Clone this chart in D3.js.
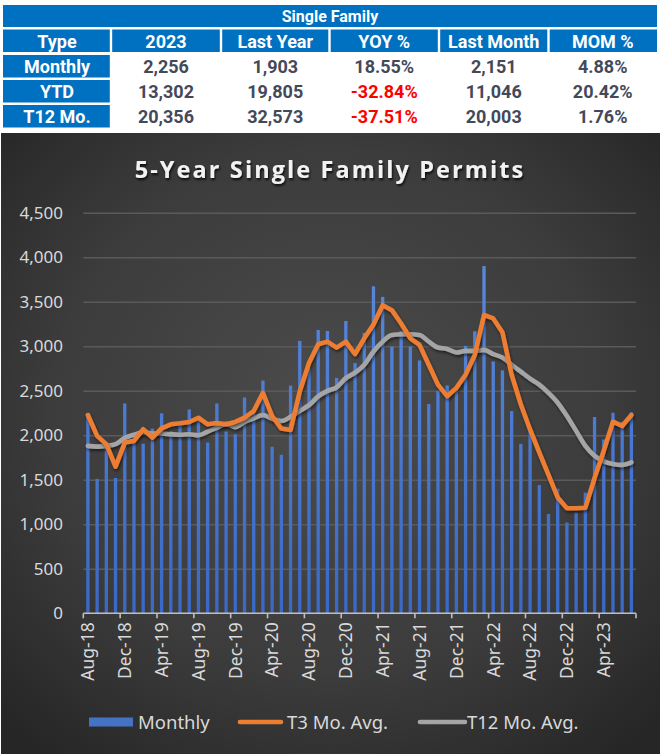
<!DOCTYPE html>
<html>
<head>
<meta charset="utf-8">
<script src="https://cdn.jsdelivr.net/npm/d3@7/dist/d3.min.js"></script>
<style>
html,body{margin:0;padding:0;background:#ffffff;}
svg{display:block;}
</style>
</head>
<body>
<svg id="chart" width="661" height="754"></svg>
<script>
// ---------- DATA ----------
const tableTitle = "Single Family";
const tableHeaders = ["Type", "2023", "Last Year", "YOY %", "Last Month", "MOM %"];
const tableRowNames = ["Monthly", "YTD", "T12 Mo."];
const tableCurrent = ["2,256", "13,302", "20,356"];
const tableLastYear = ["1,903", "19,805", "32,573"];
const tableYoy = ["18.55%", "-32.84%", "-37.51%"];
const tableLastMonth = ["2,151", "11,046", "20,003"];
const tableMom = ["4.88%", "20.42%", "1.76%"];

const chartTitle = "5-Year Single Family Permits";

const months = [
  "Aug-18","Sep-18","Oct-18","Nov-18","Dec-18",
  "Jan-19","Feb-19","Mar-19","Apr-19","May-19","Jun-19","Jul-19","Aug-19","Sep-19","Oct-19","Nov-19","Dec-19",
  "Jan-20","Feb-20","Mar-20","Apr-20","May-20","Jun-20","Jul-20","Aug-20","Sep-20","Oct-20","Nov-20","Dec-20",
  "Jan-21","Feb-21","Mar-21","Apr-21","May-21","Jun-21","Jul-21","Aug-21","Sep-21","Oct-21","Nov-21","Dec-21",
  "Jan-22","Feb-22","Mar-22","Apr-22","May-22","Jun-22","Jul-22","Aug-22","Sep-22","Oct-22","Nov-22","Dec-22",
  "Jan-23","Feb-23","Mar-23","Apr-23","May-23","Jun-23","Jul-23"
];

const monthly = [
  2250,1510,1920,1520,2357,
  1930,1905,2075,2246,2045,2105,2290,2190,1918,2357,2041,2011,
  2424,2250,2614,1870,1781,2558,3060,2750,3182,3171,2643,3283,
  2811,3150,3673,3554,2996,3171,2996,2840,2350,2500,2560,2518,
  3004,3168,3900,2829,2729,2272,1903,2080,1440,1115,1400,1020,
  1130,1355,2205,1952,2253,2151,2256
];

const t3Avg = [
  2227,1993,1900,1647,1918,
  1937,2067,1974,2078,2123,2134,2149,2197,2123,2138,2123,2150,
  2197,2272,2476,2216,2075,2060,2494,2811,3022,3052,2985,3052,
  2912,3089,3245,3461,3405,3256,3089,3015,2792,2569,2439,2532,
  2680,2903,3352,3312,3156,2680,2346,2065,1807,1556,1302,1180,
  1180,1185,1520,1825,2153,2104,2227
];

const t12Avg = [
  1881,1872,1881,1900,1970,
  2005,2035,2019,2019,2011,2006,2011,2000,2040,2086,2128,2090,
  2150,2190,2228,2186,2160,2207,2274,2338,2437,2498,2539,2642,
  2703,2792,2941,3052,3127,3134,3134,3127,3052,2985,2970,2930,
  2948,2948,2959,2911,2874,2792,2714,2636,2569,2476,2365,2216,
  2049,1881,1770,1707,1677,1667,1696
];

const yTicks = [0,500,1000,1500,2000,2500,3000,3500,4000,4500];
const legendLabels = ["Monthly", "T3 Mo. Avg.", "T12 Mo. Avg."];

// ---------- SETUP ----------
const W = 661, H = 754;
const svg = d3.select("#chart");
const defs = svg.append("defs");

// ---------- TABLE ----------
const blue = "#0070C0";
const colEdges = [3, 111, 221, 329.5, 439, 548.5, 657];
const gap = 2.4;
const tableFont = "Roboto, 'Liberation Sans', sans-serif";
const gT = svg.append("g");

gT.append("rect").attr("x", 3).attr("y", 5).attr("width", 654).attr("height", 22).attr("fill", blue);
gT.append("text").attr("x", 330).attr("y", 16.5).attr("dy", "0.36em")
  .attr("text-anchor", "middle").attr("font-family", tableFont).attr("font-weight", "bold")
  .attr("font-size", 16).attr("fill", "#ffffff").text(tableTitle);

const rowTops = [29.5, 55, 80, 105];
const rowH = 22.5;
tableHeaders.forEach((h, i) => {
  const x0 = colEdges[i] + (i === 0 ? 0 : gap / 2), x1 = colEdges[i + 1] - (i === 5 ? 0 : gap / 2);
  gT.append("rect").attr("x", x0).attr("y", rowTops[0]).attr("width", x1 - x0).attr("height", rowH).attr("fill", blue);
  gT.append("text").attr("x", (colEdges[i] + colEdges[i + 1]) / 2).attr("y", rowTops[0] + rowH / 2 + 0.5).attr("dy", "0.36em")
    .attr("text-anchor", "middle").attr("font-family", tableFont).attr("font-weight", "bold")
    .attr("font-size", 18).attr("fill", "#ffffff").text(h);
});
const colsData = [tableRowNames, tableCurrent, tableLastYear, tableYoy, tableLastMonth, tableMom];
tableRowNames.forEach((r, ri) => {
  const y = rowTops[ri + 1];
  colsData.forEach((col, ci) => {
    const v = col[ri];
    const cx = (colEdges[ci] + colEdges[ci + 1]) / 2;
    if (ci === 0) {
      gT.append("rect").attr("x", colEdges[0]).attr("y", y).attr("width", colEdges[1] - colEdges[0] - gap / 2)
        .attr("height", rowH).attr("fill", blue);
    }
    gT.append("text").attr("x", cx).attr("y", y + rowH / 2 + 0.5).attr("dy", "0.36em")
      .attr("text-anchor", "middle").attr("font-family", tableFont).attr("font-weight", "bold")
      .attr("font-size", 18)
      .attr("fill", ci === 0 ? "#ffffff" : (v.trim().startsWith("-") ? "#FF0000" : "#44495A"))
      .text(v);
  });
});

// ---------- CHART BACKGROUND ----------
const bg = defs.append("radialGradient").attr("id", "bgGrad")
  .attr("cx", "50%").attr("cy", "45%").attr("r", "70%");
bg.append("stop").attr("offset", "0%").attr("stop-color", "#4c4c4c");
bg.append("stop").attr("offset", "60%").attr("stop-color", "#3c3c3c");
bg.append("stop").attr("offset", "100%").attr("stop-color", "#262626");
svg.append("rect").attr("x", 1).attr("y", 133).attr("width", W - 2).attr("height", H - 133).attr("fill", "url(#bgGrad)");

const shadow = defs.append("filter").attr("id", "lineShadow").attr("x", "-10%").attr("y", "-10%").attr("width", "120%").attr("height", "130%");
shadow.append("feDropShadow").attr("dx", 1).attr("dy", 2).attr("stdDeviation", 1.6)
  .attr("flood-color", "#000").attr("flood-opacity", 0.55);
const tshadow = defs.append("filter").attr("id", "titleShadow").attr("x", "-10%").attr("y", "-30%").attr("width", "120%").attr("height", "170%");
tshadow.append("feDropShadow").attr("dx", 1).attr("dy", 2).attr("stdDeviation", 1.2)
  .attr("flood-color", "#000").attr("flood-opacity", 0.8);

// title
svg.append("text").attr("x", 330).attr("y", 178).attr("text-anchor", "middle")
  .attr("font-family", "'Open Sans', 'Noto Sans', sans-serif").attr("font-weight", "bold")
  .attr("font-size", 23.5).attr("letter-spacing", 2.1).attr("fill", "#F2F2F2")
  .attr("filter", "url(#titleShadow)").text(chartTitle);

// ---------- SCALES ----------
const plot = { left: 83.3, right: 636, top: 212.7, bottom: 613.3 };
const x = d3.scaleBand().domain(months).range([plot.left, plot.right]).paddingInner(0).paddingOuter(0);
const y = d3.scaleLinear().domain([0, 4500]).range([plot.bottom, plot.top]);
const xc = d => x(d) + x.bandwidth() / 2;

const axisFont = "'Noto Sans', 'Open Sans', sans-serif";
const gy = svg.append("g").attr("transform", `translate(${plot.left},0)`)
  .call(d3.axisLeft(y).tickValues(yTicks).tickSize(-(plot.right - plot.left)).tickPadding(20)
    .tickFormat(d3.format(",")));
gy.select(".domain").remove();
gy.selectAll(".tick line").attr("stroke", "#5a5a5a").attr("stroke-width", 1.6)
  .attr("opacity", d => d === 0 ? 0 : 1);
gy.selectAll(".tick text").attr("fill", "#D9D9D9").attr("font-family", axisFont).attr("font-size", 17)
  .attr("x", 63 - plot.left).attr("text-anchor", "end");

// bars
const barGrad = defs.append("linearGradient").attr("id", "barGrad")
  .attr("gradientUnits", "userSpaceOnUse").attr("x1", 0).attr("y1", plot.top).attr("x2", 0).attr("y2", plot.bottom);
barGrad.append("stop").attr("offset", "0%").attr("stop-color", "#5d8ee0");
barGrad.append("stop").attr("offset", "100%").attr("stop-color", "#3a68c6");
const barW = 3.3;
svg.append("g").selectAll("rect").data(months).join("rect")
  .attr("x", d => xc(d) - barW / 2)
  .attr("y", (d, i) => y(monthly[i]))
  .attr("width", barW)
  .attr("height", (d, i) => y(0) - y(monthly[i]))
  .attr("fill", "url(#barGrad)");

// lines
const t12Data = months.map((m, i) => ({ m, v: t12Avg[i] }));
const t3Data = months.map((m, i) => ({ m, v: t3Avg[i] }));
svg.append("path").datum(t12Data)
  .attr("d", d3.line().x(d => xc(d.m)).y(d => y(d.v)).curve(d3.curveMonotoneX))
  .attr("fill", "none")
  .attr("stroke", "#A5A5A5").attr("stroke-width", 4.6).attr("stroke-linejoin", "round").attr("stroke-linecap", "round")
  .attr("filter", "url(#lineShadow)");
svg.append("path").datum(t3Data)
  .attr("d", d3.line().x(d => xc(d.m)).y(d => y(d.v)))
  .attr("fill", "none")
  .attr("stroke", "#ED7D31").attr("stroke-width", 4.6).attr("stroke-linejoin", "round").attr("stroke-linecap", "round")
  .attr("filter", "url(#lineShadow)");

// x axis
const tickMonths = months.filter((m, i) => i % 4 === 0);
const gx = svg.append("g").attr("transform", `translate(0,${plot.bottom})`);
gx.append("line").attr("x1", plot.left).attr("x2", plot.right).attr("y1", 0).attr("y2", 0)
  .attr("stroke", "#BFBFBF").attr("stroke-width", 1.6);
const tickPositions = tickMonths.map(m => x(m)).concat([plot.right]);
gx.selectAll("line.tk").data(tickPositions).join("line").attr("class", "tk")
  .attr("x1", d => d).attr("x2", d => d).attr("y1", 0).attr("y2", 5)
  .attr("stroke", "#BFBFBF").attr("stroke-width", 1.6);
gx.selectAll("text").data(tickMonths).join("text")
  .attr("transform", d => `translate(${xc(d)},${9}) rotate(-90)`)
  .attr("text-anchor", "end").attr("dy", "0.36em")
  .attr("font-family", axisFont).attr("font-size", 17.5).attr("fill", "#D9D9D9")
  .text(d => d);

// legend
const lg = svg.append("g");
const legY = 722;
lg.append("rect").attr("x", 89).attr("y", legY - 4.5).attr("width", 44).attr("height", 9).attr("fill", "#4472C4");
lg.append("line").attr("x1", 240).attr("x2", 281).attr("y1", legY).attr("y2", legY)
  .attr("stroke", "#ED7D31").attr("stroke-width", 4.6).attr("stroke-linecap", "round");
lg.append("line").attr("x1", 420).attr("x2", 465).attr("y1", legY).attr("y2", legY)
  .attr("stroke", "#A5A5A5").attr("stroke-width", 4.6).attr("stroke-linecap", "round");
const legX = [138, 287, 467];
legendLabels.forEach((t, i) => {
  lg.append("text").attr("x", legX[i]).attr("y", legY).attr("dy", "0.36em")
    .attr("font-family", axisFont).attr("font-size", 18.5).attr("fill", "#D9D9D9").text(t);
});
</script>
</body>
</html>
